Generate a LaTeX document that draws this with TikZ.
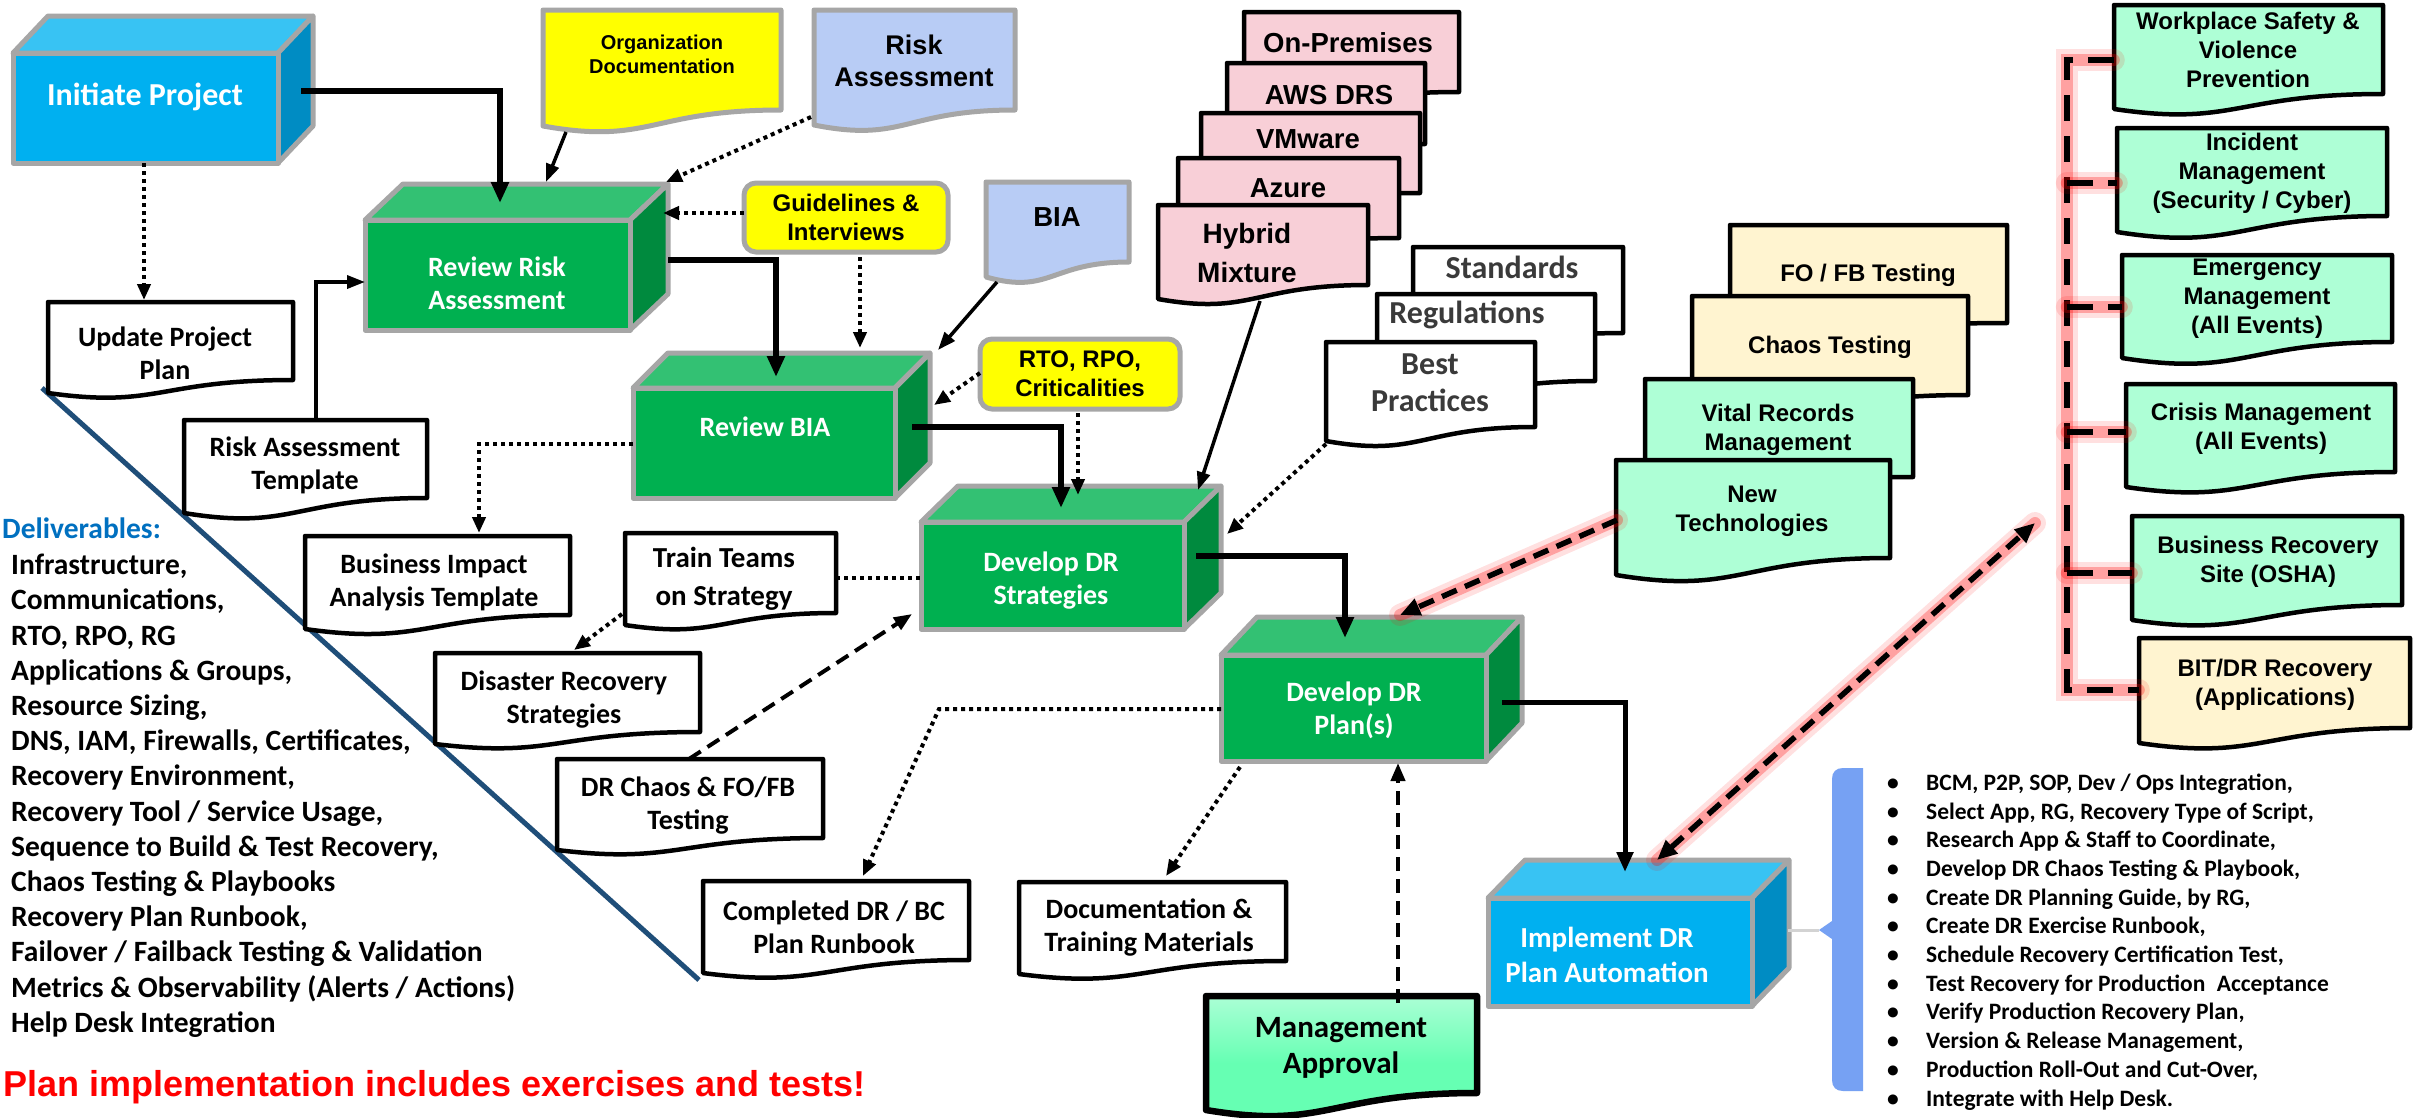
\documentclass[tikz,border=0pt]{standalone}
\usepackage{fontspec}
\setmainfont{Carlito}
\newfontfamily\arialfont{Liberation Sans}
\usetikzlibrary{arrows.meta,calc}

\definecolor{boxgrey}{HTML}{A6A6A6}
\definecolor{cfront}{HTML}{00B0F0}
\definecolor{ctop}{HTML}{38C3F3}
\definecolor{cside}{HTML}{008CC3}
\definecolor{gfront}{HTML}{00B050}
\definecolor{gtop}{HTML}{33C173}
\definecolor{gside}{HTML}{008A3E}
\definecolor{docyellow}{HTML}{FFFF00}
\definecolor{docblue}{HTML}{B8CCF5}
\definecolor{docpink}{HTML}{F8CFD7}
\definecolor{docmint}{HTML}{AEFFD6}
\definecolor{doccream}{HTML}{FFF4D0}
\definecolor{apprgreen}{HTML}{66FFB3}
\definecolor{bracefill}{HTML}{76A1F3}
\definecolor{diagblue}{HTML}{1F4E79}
\definecolor{delblue}{HTML}{0070C0}
\definecolor{greytext}{HTML}{3A3A3A}

\tikzset{
  every node/.style={inner sep=0pt},
  face/.style={draw=boxgrey, line width=5pt, line join=round},
  paper/.style={draw=black, line width=4.5pt, line join=round, fill=white},
  paperpink/.style={paper, fill=docpink},
  papercream/.style={paper, fill=doccream},
  papermint/.style={paper, fill=docmint},
  papergy/.style={draw=boxgrey, line width=5pt, line join=round, fill=docyellow},
  papergb/.style={draw=boxgrey, line width=5pt, line join=round, fill=docblue},
  papergreen/.style={draw=black, line width=6.5pt, line join=round, top color=apprgreen!55!white, bottom color=apprgreen, middle color=apprgreen},
  boxlabel/.style={font=\fontsize{28}{33}\selectfont\bfseries, text=white, align=center},
  doclabel/.style={font=\fontsize{28}{33}\selectfont\bfseries, align=center},
  arlabel/.style={font=\arialfont\fontsize{24}{29}\selectfont\bfseries, align=center},
  stacklabel/.style={font=\arialfont\fontsize{27.5}{34}\selectfont\bfseries, align=center},
  greylabel/.style={font=\fontsize{32}{37}\selectfont\bfseries, text=greytext, align=center},
  tagbox/.style={draw=boxgrey, line width=5pt, fill=docyellow, rounded corners=12pt},
  lnheavy/.style={draw, line width=6pt, -{Triangle[length=21pt,width=17pt]}},
  lnmed/.style={draw, line width=5pt, -{Triangle[length=20pt,width=16pt]}},
  lnlight/.style={draw, line width=3.5pt, -{Triangle[length=18pt,width=13pt]}},
  dotlink/.style={draw, line width=4pt, dash pattern=on 4pt off 4pt},
  dotarrow/.style={dotlink, -{Triangle[length=16pt,width=13pt]}},
  dasharrow/.style={draw, line width=4pt, dash pattern=on 14pt off 8pt, -{Triangle[length=18pt,width=14pt]}},
  glowing/.style={
    preaction={draw=red, line width=22pt, opacity=0.12, solid, arrows=-, line cap=round},
    preaction={draw=red, line width=12pt, opacity=0.28, solid, arrows=-, line cap=round}},
  glowline/.style={draw, line width=5.5pt, dash pattern=on 16pt off 9pt},
  spine/.style={glowing, draw, line width=6.5pt, dash pattern=on 26pt off 15pt},
}

% 3D process block: name, x1, y1, x2, y2 (front face), depth dx, dy, colour set
\newcommand\cubeshape[8]{%
  \filldraw[face, fill=#8top] (#2,#3) -- ({#2+#6},{#3-#7}) -- ({#4+#6},{#3-#7}) -- (#4,#3) -- cycle;
  \filldraw[face, fill=#8side] (#4,#3) -- ({#4+#6},{#3-#7}) -- ({#4+#6},{#5-#7}) -- (#4,#5) -- cycle;
  \filldraw[face, fill=#8front] (#2,#3) rectangle (#4,#5);
  \node[minimum width={#4-#2}, minimum height={#5-#3}] (#1) at ({(#2+#4)/2},{(#3+#5)/2}) {};
}
% document sheet with wavy lower edge: name, style, x1, y1, x2, right bottom, wave depth
\newcommand\docshape[7]{%
  \filldraw[#2] (#3,#4) -- (#5,#4) -- (#5,#6)
    .. controls ({#3+0.45*(#5-#3)},#6) and ({#3+0.45*(#5-#3)},{#6+2.2*#7}) .. (#3,{#6+#7}) -- cycle;
  \node[minimum width={#5-#3}, minimum height={#6-#4}] (#1) at ({(#3+#5)/2},{(#4+#6)/2}) {};
}

\begin{document}
\begin{tikzpicture}[x=1pt, y=-1pt]
\useasboundingbox (0,0) rectangle (2425,1117);
\fill[white] (0,0) rectangle (2425,1117);

% divider between the flow and the deliverables
\draw[diagblue, line width=5pt] (42,388) -- (699,980);

% ---------- documents on the left ----------
\docshape{upd}{paper}{48}{302}{293}{380}{13}
\node[doclabel] (upd-t) at (165,353) {Update Project\\Plan};
\docshape{rat}{paper}{184}{420}{427}{498}{15}
\node[doclabel] (rat-t) at (305,465) {Risk Assessment\\Template};
\docshape{biat}{paper}{305}{536}{570}{615}{14}
\node[doclabel] (biat-t) at (434,582) {Business Impact\\Analysis Template};
\docshape{train}{paper}{625}{533}{836}{613}{12}
\node[doclabel, font=\fontsize{29}{38}\selectfont\bfseries] (train-t) at (724,579) {Train Teams\\on Strategy};
\docshape{drs}{paper}{435}{653}{700}{732}{12}
\node[doclabel] (drs-t) at (564,700) {Disaster Recovery\\Strategies};
\docshape{chaosdoc}{paper}{557}{759}{823}{838}{12}
\node[doclabel] (chaosdoc-t) at (688,806) {DR Chaos \& FO/FB\\Testing};
\docshape{completed}{paper}{703}{881}{969}{960}{13}
\node[doclabel] (completed-t) at (834,927) {Completed DR / BC\\Plan Runbook};
\docshape{doctrain}{paper}{1019}{882}{1286}{961}{13}
\node[doclabel] (doctrain-t) at (1149,928) {Documentation \&\\Training Materials};
\docshape{mgmt}{papergreen}{1206}{996}{1477}{1093}{17}
\node[doclabel, font=\fontsize{31}{36}\selectfont\bfseries] (mgmt-t) at (1341,1048) {Management\\Approval};

% ---------- inputs ----------
\docshape{org}{papergy}{543}{10}{781}{110}{16}
\node[arlabel, font=\arialfont\fontsize{20}{24}\selectfont\bfseries] (org-t) at (662,54) {Organization\\Documentation};
\docshape{riskdoc}{papergb}{814}{10}{1015}{110}{15}
\node[stacklabel, font=\arialfont\fontsize{27}{32}\selectfont\bfseries] (riskdoc-t) at (914,61) {Risk\\Assessment};
\docshape{bia}{papergb}{986}{182}{1129}{262}{15}
\node[stacklabel] (bia-t) at (1057,217) {BIA};
\node[tagbox, arlabel, minimum width=204, minimum height=69] (guide) at (846,217.5) {Guidelines \&\\Interviews};
\node[tagbox, arlabel, minimum width=200, minimum height=70] (rto) at (1080,374) {RTO, RPO,\\Criticalities};

% ---------- platform stack ----------
\docshape{onprem}{paperpink}{1244}{12}{1459}{92}{10}
\node[stacklabel] (onprem-t) at (1348,43) {On-Premises};
\docshape{aws}{paperpink}{1227}{63}{1425}{144}{10}
\node[stacklabel] (aws-t) at (1329,95) {AWS DRS};
\docshape{vmw}{paperpink}{1201}{113}{1420}{193}{10}
\node[stacklabel] (vmw-t) at (1308,139) {VMware};
\docshape{azure}{paperpink}{1178}{158}{1399}{238}{10}
\node[stacklabel] (azure-t) at (1288,188) {Azure};
\docshape{hybrid}{paperpink}{1158}{205}{1368}{285}{14}
\node[stacklabel, font=\arialfont\fontsize{28}{39}\selectfont\bfseries] (hybrid-t) at (1247,253) {Hybrid\\Mixture};

% ---------- standards stack ----------
\docshape{std}{paper}{1413}{247}{1623}{333}{12}
\node[greylabel] (std-t) at (1512,267) {Standards};
\docshape{regs}{paper}{1377}{294}{1595}{381}{12}
\node[greylabel] (regs-t) at (1467,315) {Regulations};
\docshape{best}{paper}{1326}{342}{1535}{427}{14}
\node[greylabel] (best-t) at (1430,383) {Best\\Practices};

% ---------- testing / records stack ----------
\docshape{fofb}{papercream}{1730}{225}{2007}{323}{8}
\node[arlabel] (fofb-t) at (1868,275) {FO / FB Testing};
\docshape{chaos}{papercream}{1692}{296}{1968}{395}{14}
\node[arlabel] (chaos-t) at (1830,347) {Chaos Testing};
\docshape{vital}{papermint}{1645}{379}{1913}{477}{14}
\node[arlabel] (vital-t) at (1778,430) {Vital Records\\Management};
\docshape{newtech}{papermint}{1616}{460}{1890}{558}{17}
\node[arlabel] (newtech-t) at (1752,511) {New\\Technologies};

% ---------- related programmes ----------
\docshape{wps}{papermint}{2114}{5}{2383}{94}{15}
\node[arlabel] (wps-t) at (2248,50) {Workplace Safety \&\\Violence\\Prevention};
\docshape{inc}{papermint}{2117}{128}{2387}{216}{16}
\node[arlabel] (inc-t) at (2252,173) {Incident\\Management\\(Security / Cyber)};
\docshape{emg}{papermint}{2122}{255}{2392}{342}{16}
\node[arlabel] (emg-t) at (2257,299) {Emergency\\Management\\(All Events)};
\docshape{crisis}{papermint}{2126}{384}{2395}{472}{15}
\node[arlabel] (crisis-t) at (2261,429) {Crisis Management\\(All Events)};
\docshape{brs}{papermint}{2132}{516}{2402}{605}{15}
\node[arlabel] (brs-t) at (2268,562) {Business Recovery\\Site (OSHA)};
\docshape{bit}{papercream}{2139}{638}{2410}{728}{15}
\node[arlabel] (bit-t) at (2275,685) {BIT/DR Recovery\\(Applications)};

% ---------- process blocks ----------
\cubeshape{init}{13}{53}{278}{163}{35}{37}{c}
\node[boxlabel, font=\fontsize{32}{38}\selectfont\bfseries] (init-t) at (145,97) {Initiate Project};
\cubeshape{rra}{365}{220}{630}{330}{38}{36}{g}
\node[boxlabel] (rra-t) at (497,283) {Review Risk\\Assessment};
\cubeshape{rbia}{633}{388}{895}{498}{35}{35}{g}
\node[boxlabel] (rbia-t) at (765,427) {Review BIA};
\cubeshape{dds}{921}{522}{1184}{629}{37}{36}{g}
\node[boxlabel] (dds-t) at (1051,581) {Develop DR\\Strategies};
\cubeshape{ddp}{1221}{655}{1486}{761}{36}{38}{g}
\node[boxlabel] (ddp-t) at (1354,710) {Develop DR\\Plan(s)};
\cubeshape{impl}{1488}{898}{1752}{1006}{37}{38}{c}
\node[boxlabel, font=\fontsize{29}{35}\selectfont\bfseries] (impl-t) at (1607,955) {Implement DR\\Plan Automation};

% ---------- connectors ----------
\draw[dotarrow] ($(init)+(-1.5,55)$) -- ($(upd)+(-26.5,-41)$);
\draw[lnheavy] ($(init)+(155.5,-17)$) -| ($(rra)+(2.5,-72)$);
\draw[lnlight] ($(rat)+(10.5,-40)$) |- ($(rra)+(-132.5,7)$);
\draw[lnlight] ($(org)+(-96,72)$) -- ($(rra)+(48.5,-93)$);
\draw[dotarrow] ($(riskdoc)+(-103.5,57)$) -- ($(rra)+(168.5,-93)$);
\draw[dotarrow] ($(guide)+(-102,-4.5)$) -- ($(rra)+(165.5,-62)$);
\draw[lnheavy] ($(rra)+(170.5,-15)$) -| ($(rbia)+(12,-66)$);
\draw[dotarrow] ($(guide)+(14,39.5)$) -- ($(rbia)+(96,-95)$);
\draw[lnlight] ($(bia)+(-60.5,60)$) -- ($(rbia)+(174,-93)$);
\draw[dotarrow] ($(rto)+(-100,-1)$) -- ($(rbia)+(170,-38)$);
\draw[dotarrow] ($(rbia)+(-131,1)$) -| ($(biat)+(41.5,-42.5)$);
\draw[lnheavy] ($(rbia)+(148,-16)$) -| ($(dds)+(8.5,-67.5)$);
\draw[dotarrow] ($(rto)+(-2,39)$) -- ($(dds)+(25.5,-80.5)$);
\draw[lnlight] ($(hybrid)+(-3,56)$) -- ($(dds)+(145.5,-85.5)$);
\draw[dotarrow] ($(best)+(-104.5,59.5)$) -- ($(dds)+(174.5,-41.5)$);
\draw[dotlink] ($(train)+(105.5,5)$) -- ($(dds)+(-131.5,2.5)$);
\draw[dotarrow] ($(train)+(-108.5,41)$) -- ($(drs)+(6.5,-42.5)$);
\draw[dasharrow] ($(chaosdoc)+(-1,-39.5)$) -- ($(dds)+(-140.5,38.5)$);
\draw[lnheavy] ($(dds)+(143.5,-19.5)$) -| ($(ddp)+(-8.5,-70)$);
\draw[glowing, glowline, -{Triangle[length=20pt,width=17pt]}] ($(newtech)+(-136,11)$) -- ($(ddp)+(46.5,-93)$);
\draw[dotarrow] ($(ddp)+(-132.5,1)$) -- ($(ddp)+(-414.5,1)$) -- ($(completed)+(27,-44.5)$);
\draw[dotarrow] ($(ddp)+(-113.5,59)$) -- ($(doctrain)+(13.5,-45.5)$);
\draw[dasharrow] ($(mgmt)+(56.5,-41.5)$) -- ($(ddp)+(44.5,55)$);
\draw[lnmed] ($(ddp)+(148.5,-6)$) -| ($(impl)+(5,-80)$);

% link between automation and the related programmes
\coordinate (grp) at (2035,523);
\draw[glowing, glowline, {Triangle[length=20pt,width=17pt]}-{Triangle[length=20pt,width=17pt]}] ($(impl)+(37,-92)$) -- (grp);

% dashed spine joining the related programmes
\draw[spine] ($(wps.west)+(0,10.5)$) -| ($(bit.west)+(-72,7)$) -- ($(bit.west)+(0,7)$);
\draw[spine] ($(inc.west)+(-50,11)$) -- ($(inc.west)+(0,11)$);
\draw[spine] ($(emg.west)+(-55,8.5)$) -- ($(emg.west)+(0,8.5)$);
\draw[spine] ($(crisis.west)+(-59,4)$) -- ($(crisis.west)+(0,4)$);
\draw[spine] ($(brs.west)+(-65,12.5)$) -- ($(brs.west)+(0,12.5)$);

% brace gathering the automation tasks
\fill[bracefill] (1863,768) -- (1843,768) .. controls (1836,768) and (1832,772) .. (1832,779)
  -- (1832,921) -- (1819,930) -- (1832,939) -- (1832,1080)
  .. controls (1832,1087) and (1836,1091) .. (1843,1091) -- (1863,1091) -- cycle;
\coordinate (brace) at (1819,930);
\draw[boxgrey!50, line width=3pt] ($(impl)+(168,-22)$) -- (brace);

% automation task list
\node[anchor=north west, font=\fontsize{23.5}{28.7}\selectfont\bfseries] (tasks) at (1887,770) {%
  \begin{tabular}{@{}p{39pt}@{}l@{}}
  • & BCM, P2P, SOP, Dev / Ops Integration,\\
  • & Select App, RG, Recovery Type of Script,\\
  • & Research App \& Staff to Coordinate,\\
  • & Develop DR Chaos Testing \& Playbook,\\
  • & Create DR Planning Guide, by RG,\\
  • & Create DR Exercise Runbook,\\
  • & Schedule Recovery Certification Test,\\
  • & Test Recovery for Production\hspace{6pt} Acceptance\\
  • & Verify Production Recovery Plan,\\
  • & Version \& Release Management,\\
  • & Production Roll-Out and Cut-Over,\\
  • & Integrate with Help Desk.
  \end{tabular}};

% deliverables list
\node[anchor=base west, font=\fontsize{29.5}{35}\selectfont\bfseries, text=delblue] (delhead) at (2,538) {Deliverables:};
\node[anchor=north west, font=\fontsize{29.5}{35.2}\selectfont\bfseries] (deliv) at (11,549.9) {%
  \begin{tabular}{@{}l@{}}
  Infrastructure,\\
  Communications,\\
  RTO, RPO, RG\\
  Applications \& Groups,\\
  Resource Sizing,\\
  DNS, IAM, Firewalls, Certificates,\\
  Recovery Environment,\\
  Recovery Tool / Service Usage,\\
  Sequence to Build \& Test Recovery,\\
  Chaos Testing \& Playbooks\\
  Recovery Plan Runbook,\\
  Failover / Failback Testing \& Validation\\
  Metrics \& Observability (Alerts / Actions)\\
  Help Desk Integration
  \end{tabular}};

\node[anchor=base west, font=\arialfont\fontsize{36}{40}\selectfont\bfseries, text=red] (note) at (3,1096) {Plan implementation includes exercises and tests!};
\end{tikzpicture}
\end{document}
